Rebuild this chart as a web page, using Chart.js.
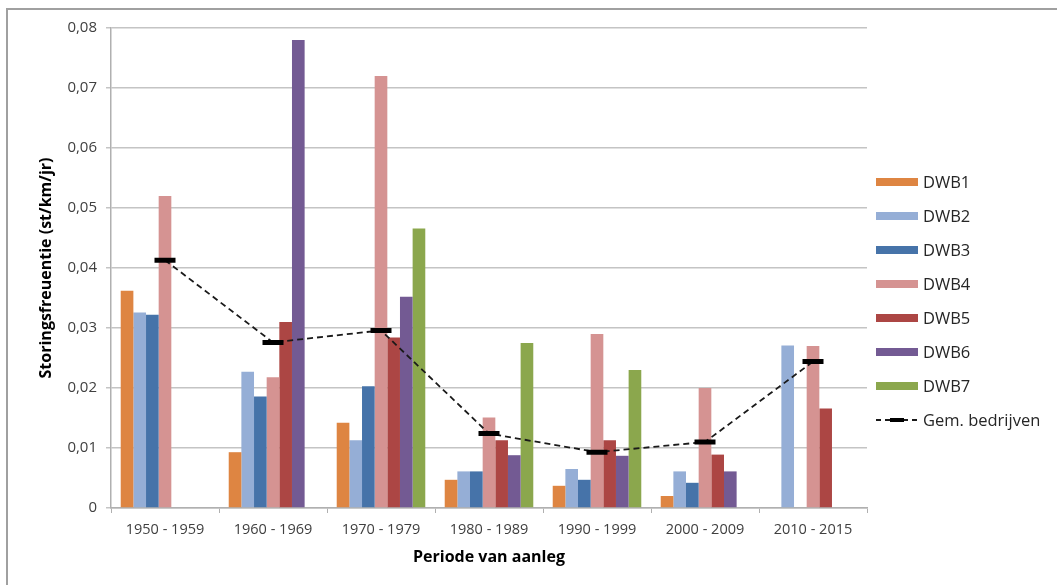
<!DOCTYPE html>
<html>
<head>
<meta charset="utf-8">
<script src="https://cdn.jsdelivr.net/npm/chart.js@4"></script>
<style>
  html, body { margin: 0; padding: 0; background: #ffffff; }
  #wrap { width: 1057px; height: 585px; position: relative; }
</style>
</head>
<body>
<div id="wrap"><canvas id="c" width="1057" height="585"></canvas></div>
<script>
// Periods of construction (categories)
const periods = ['1950 - 1959', '1960 - 1969', '1970 - 1979', '1980 - 1989', '1990 - 1999', '2000 - 2009', '2010 - 2015'];

// Failure frequency per company (st/km/jr)
const dwb1 = [0.0362, 0.0093, 0.0142, 0.0047, 0.0037, 0.0020, null];
const dwb2 = [0.0326, 0.0227, 0.0113, 0.0061, 0.0065, 0.0061, 0.0271];
const dwb3 = [0.0322, 0.0186, 0.0203, 0.0061, 0.0047, 0.0042, null];
const dwb4 = [0.0520, 0.0218, 0.0720, 0.0151, 0.0290, 0.0200, 0.0270];
const dwb5 = [null, 0.0310, 0.0284, 0.0113, 0.0113, 0.0089, 0.0166];
const dwb6 = [null, 0.0780, 0.0352, 0.0088, 0.0087, 0.0061, null];
const dwb7 = [null, null, 0.0466, 0.0275, 0.0230, null, null];

// Average over the companies
const gemBedrijven = [0.0413, 0.0276, 0.0296, 0.0124, 0.0093, 0.0110, 0.0244];

const seriesNames = ['DWB1', 'DWB2', 'DWB3', 'DWB4', 'DWB5', 'DWB6', 'DWB7'];
const seriesValues = [dwb1, dwb2, dwb3, dwb4, dwb5, dwb6, dwb7];
const seriesColors = ['#DE8542', '#95AED6', '#4673A9', '#D59392', '#AC4644', '#735A93', '#8BA74D'];
const avgLabel = 'Gem. bedrijven';

const FONT = '"Open Sans", "Liberation Sans", sans-serif';

const barSets = seriesNames.map((name, i) => ({
  type: 'bar',
  label: name,
  data: seriesValues[i],
  backgroundColor: seriesColors[i],
  borderWidth: 0,
  categoryPercentage: 0.82,
  barPercentage: 1.0,
  order: 1
}));

const avgSet = {
  type: 'line',
  label: avgLabel,
  data: gemBedrijven,
  borderColor: '#1a1a1a',
  borderWidth: 1.8,
  borderDash: [6, 4],
  fill: false,
  tension: 0,
  pointStyle: 'line',
  pointRadius: 10.5,
  pointHoverRadius: 10.5,
  pointBorderWidth: 5,
  pointBorderColor: '#000000',
  pointBackgroundColor: '#000000',
  order: 0
};

// Legend on the right and the outer frame
const sideLegend = {
  id: 'sideLegend',
  afterDraw(chart) {
    const ctx = chart.ctx;
    ctx.save();
    // frame
    ctx.strokeStyle = '#a0a0a0';
    ctx.lineWidth = 2;
    ctx.beginPath();
    ctx.moveTo(7, 590);
    ctx.lineTo(7, 9);
    ctx.lineTo(1060, 9);
    ctx.stroke();

    const x0 = 876, boxW = 42, boxH = 8, y0 = 182, step = 34;
    ctx.font = '16.5px ' + FONT;
    ctx.textBaseline = 'middle';
    ctx.textAlign = 'left';
    seriesNames.forEach((name, i) => {
      const y = y0 + i * step;
      ctx.fillStyle = seriesColors[i];
      ctx.fillRect(x0, y - boxH / 2, boxW, boxH);
      ctx.fillStyle = '#262626';
      ctx.fillText(name, x0 + 47, y + 1);
    });
    const yl = y0 + seriesNames.length * step;
    ctx.strokeStyle = '#1a1a1a';
    ctx.lineWidth = 1.8;
    ctx.setLineDash([5, 4]);
    ctx.beginPath();
    ctx.moveTo(x0, yl);
    ctx.lineTo(x0 + boxW, yl);
    ctx.stroke();
    ctx.setLineDash([]);
    ctx.lineWidth = 4;
    ctx.strokeStyle = '#000000';
    ctx.beginPath();
    ctx.moveTo(x0 + 14, yl);
    ctx.lineTo(x0 + 28, yl);
    ctx.stroke();
    ctx.fillStyle = '#262626';
    ctx.fillText(avgLabel, x0 + 47, yl + 1);
    ctx.restore();
  }
};

const whiteBg = {
  id: 'whiteBg',
  beforeDraw(chart) {
    const ctx = chart.ctx;
    ctx.save();
    ctx.fillStyle = '#ffffff';
    ctx.fillRect(0, 0, chart.width, chart.height);
    ctx.restore();
  }
};

new Chart(document.getElementById('c'), {
  data: {
    labels: periods,
    datasets: [...barSets, avgSet]
  },
  options: {
    responsive: false,
    animation: false,
    layout: { padding: { left: 0, top: 28, right: 190, bottom: 0 } },
    plugins: {
      legend: { display: false },
      tooltip: { enabled: false }
    },
    scales: {
      x: {
        offset: true,
        grid: {
          offset: true,
          drawOnChartArea: false,
          drawTicks: true,
          tickLength: 5,
          color: '#b0b0b0',
          lineWidth: 1
        },
        border: { color: '#b0b0b0', width: 1.5 },
        ticks: {
          color: '#404040',
          font: { family: FONT, size: 14.5 },
          padding: 8,
          maxRotation: 0,
          autoSkip: false
        },
        title: {
          display: true,
          text: 'Periode van aanleg',
          color: '#000000',
          font: { family: FONT, size: 16, weight: 'bold' },
          padding: { top: 0, bottom: 18 }
        },
        afterFit(scale) { scale.height = 77; }
      },
      y: {
        min: 0,
        max: 0.08,
        grid: {
          color: '#c4c4c4',
          lineWidth: 1.5,
          tickLength: 5,
          drawTicks: true
        },
        border: { color: '#b0b0b0', width: 1.5 },
        ticks: {
          stepSize: 0.01,
          color: '#404040',
          font: { family: FONT, size: 15 },
          padding: 9,
          callback(v) {
            return v === 0 ? '0' : v.toFixed(2).replace('.', ',');
          }
        },
        title: {
          display: true,
          text: 'Storingsfreuentie (st/km/jr)',
          color: '#000000',
          font: { family: FONT, size: 16, weight: 'bold' },
          padding: { top: 37, bottom: 0 }
        },
        afterFit(scale) { scale.width = 111; }
      }
    }
  },
  plugins: [whiteBg, sideLegend]
});
</script>
</body>
</html>
